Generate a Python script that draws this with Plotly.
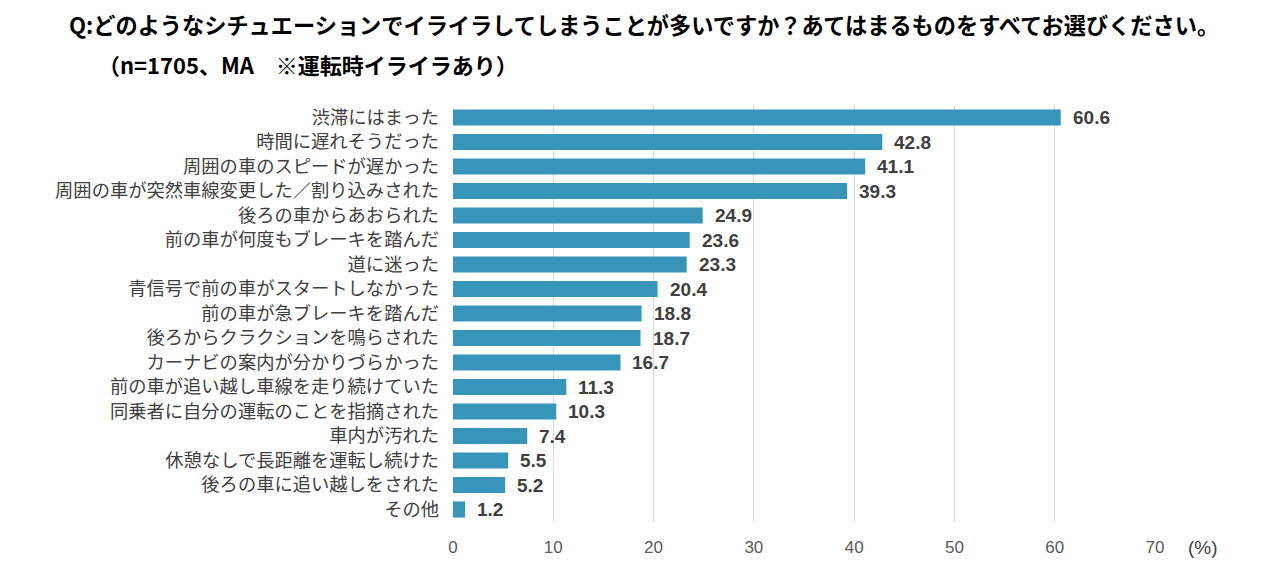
import plotly.graph_objects as go

categories = [
    "渋滞にはまった",
    "時間に遅れそうだった",
    "周囲の車のスピードが遅かった",
    "周囲の車が突然車線変更した／割り込みされた",
    "後ろの車からあおられた",
    "前の車が何度もブレーキを踏んだ",
    "道に迷った",
    "青信号で前の車がスタートしなかった",
    "前の車が急ブレーキを踏んだ",
    "後ろからクラクションを鳴らされた",
    "カーナビの案内が分かりづらかった",
    "前の車が追い越し車線を走り続けていた",
    "同乗者に自分の運転のことを指摘された",
    "車内が汚れた",
    "休憩なしで長距離を運転し続けた",
    "後ろの車に追い越しをされた",
    "その他",
]
values = [60.6, 42.8, 41.1, 39.3, 24.9, 23.6, 23.3, 20.4, 18.8, 18.7, 16.7, 11.3, 10.3, 7.4, 5.5, 5.2, 1.2]
tick_vals = [0, 10, 20, 30, 40, 50, 60, 70]

title1 = "Q:どのようなシチュエーションでイライラしてしまうことが多いですか？あてはまるものをすべてお選びください。"
title2 = "（n=1705、MA　※運転時イライラあり）"

# The page body has an 8px margin, so the figure is drawn 8px in from the top-left.
OFF = 8
W, H = 1279 - OFF, 565 - OFF
# plot area in screen pixels: x 453..1155, y 105..522
ML, MT = 453 - OFF, 105 - OFF
MR = W - (1155 - OFF)
MB = H - (522 - OFF)
PW, PH = W - ML - MR, H - MT - MB


def px_x(px):
    return (px - OFF - ML) / PW


def px_y(py):
    return (H - MB - (py - OFF)) / PH


fig = go.Figure()
fig.add_trace(go.Bar(
    x=values, y=categories, orientation="h",
    marker=dict(color="#3795BC", line=dict(width=0)),
    width=0.66,
    hoverinfo="x+y",
))

annotations = []
for c, v in zip(categories, values):
    annotations.append(dict(
        x=v, y=c, xref="x", yref="y", text=f"{v:.1f}", showarrow=False,
        xanchor="left", yanchor="middle", xshift=10,
        font=dict(family="'Liberation Sans Narrow', 'Liberation Sans', sans-serif", size=19,
                  color="#404040", weight="bold"),
    ))

annotations += [
    dict(text=title1, x=px_x(67), y=px_y(24), xref="paper", yref="paper", showarrow=False,
         xanchor="left", yanchor="middle",
         font=dict(size=22.2, color="#000000", family="'Noto Sans CJK JP', sans-serif", weight="bold")),
    dict(text=title2, x=px_x(96), y=px_y(64), xref="paper", yref="paper", showarrow=False,
         xanchor="left", yanchor="middle",
         font=dict(size=22, color="#000000", family="'Noto Sans CJK JP', sans-serif", weight="bold")),
    dict(text="(%)", x=px_x(1186), y=px_y(547), xref="paper", yref="paper", showarrow=False,
         xanchor="left", yanchor="middle",
         font=dict(size=19, color="#404040", family="'Liberation Sans Narrow', 'Liberation Sans', sans-serif")),
]

fig.update_layout(
    width=W, height=H,
    paper_bgcolor="white", plot_bgcolor="white",
    margin=dict(l=ML, r=MR, t=MT, b=MB, autoexpand=False),
    showlegend=False,
    font=dict(family="'Noto Sans CJK JP', sans-serif", color="#404040"),
    xaxis=dict(
        range=[0, 70], tickvals=tick_vals, showgrid=True, gridcolor="#d9d9d9", gridwidth=1,
        zeroline=False, showline=False, automargin=False,
        tickfont=dict(family="'Liberation Sans Narrow', 'Liberation Sans', sans-serif", size=17, color="#595959"),
        ticks="", ticklabelstandoff=13,
    ),
    yaxis=dict(
        autorange="reversed", showgrid=False, zeroline=False, showline=False, automargin=False,
        tickfont=dict(size=18.3, color="#404040"), ticks="", ticklabelstandoff=13,
    ),
    annotations=annotations,
)

fig.write_html("out.html")
